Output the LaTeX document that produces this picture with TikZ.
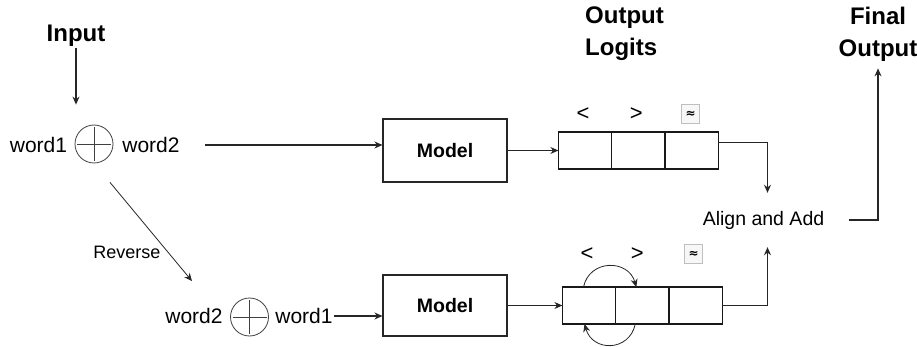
\documentclass[tikz,border=0pt]{standalone}
\usepackage{fontspec}
\setmainfont{Liberation Sans}
\newfontfamily\symfont{DejaVu Sans}
\usetikzlibrary{arrows.meta,positioning}

\tikzset{
  >={Stealth[length=8pt,width=7pt]},
  line/.style={draw=black!85, line width=1.1pt},
  head/.style={font=\fontsize{24}{32}\selectfont\bfseries, inner sep=1pt},
  word/.style={font=\fontsize{21}{24}\selectfont, inner sep=1pt},
  oplus/.style={circle, draw=black!75, line width=0.8pt, minimum size=38pt, inner sep=0pt,
    path picture={\draw[black!75, line width=0.8pt]
      ([yshift=-2pt]path picture bounding box.north) -- ([yshift=2pt]path picture bounding box.south)
      ([xshift=2pt]path picture bounding box.west) -- ([xshift=-2pt]path picture bounding box.east);}},
  modelbox/.style={draw=black!85, line width=1.1pt, minimum width=124pt, minimum height=63pt,
    font=\fontsize{19.5}{24}\selectfont\bfseries},
  cell/.style={draw=black!90, line width=1.1pt, minimum width=53.3pt, minimum height=37pt,
    inner sep=0pt, outer sep=0pt},
  sym/.style={font=\fontsize{22}{24}\selectfont, inner sep=0pt},
  unk/.style={draw=black!25, fill=black!3, minimum width=18pt, minimum height=19pt, inner sep=0pt,
    font=\symfont\fontsize{12}{12}\selectfont\bfseries},
}

\begin{document}
\begin{tikzpicture}[x=1pt, y=-1pt]
  \useasboundingbox (0,0) rectangle (917,347);

  % headings
  \node[head] (input) at (76,36) {Input};
  \node[head, align=left, anchor=west] (logits) at (584,34) {Output\\Logits};
  \node[head, align=center] (final) at (878,34) {Final\\Output};

  % upper branch
  \node[word] (w1a) at (38.5,145) {word1};
  \node[oplus] (plus1) at (94,144) {};
  \node[word] (w2a) at (151,145) {word2};
  \node[modelbox] (modelA) at (445,150.5) {Model};
  \node[cell] (l1) at (585,150.5) {};
  \node[cell, right=0pt of l1] (l2) {};
  \node[cell, right=0pt of l2] (l3) {};
  \node[sym] at ([xshift=-2pt,yshift=18pt]l1.north) {<};
  \node[sym] at ([xshift=-2pt,yshift=18pt]l2.north) {>};
  \node[unk] at ([xshift=-1pt,yshift=18pt]l3.north) {≈};

  % lower branch
  \node[word] (w2b) at (194,316) {word2};
  \node[oplus] (plus2) at (249.5,317) {};
  \node[word] (w1b) at (304,316) {word1};
  \node[modelbox, minimum height=61pt] (modelB) at (445,305.5) {Model};
  \node[cell] (r1) at (589,305.5) {};
  \node[cell, right=0pt of r1] (r2) {};
  \node[cell, right=0pt of r2] (r3) {};
  \node[sym] at ([xshift=-2pt,yshift=33pt]r1.north) {<};
  \node[sym] at ([xshift=-5pt,yshift=33pt]r2.north) {>};
  \node[unk] at ([xshift=-2pt,yshift=33pt]r3.north) {≈};

  \node[font=\fontsize{19.5}{24}\selectfont, minimum width=170pt, minimum height=54pt, inner sep=0pt]
    (align) at (763.5,220) {Align and Add};

  % connectors
  \draw[line, ->, shorten >=20pt] (input.south) -- (input |- plus1.north);
  \draw[line, ->, shorten <=24pt] (w2a.east) -- (w2a.east -| modelA.west);
  \draw[line, ->] (modelA.east) -- (l1.west);
  \draw[line, ->, line width=0.8pt] ([xshift=16pt,yshift=-19pt]plus1.south)
    -- node[pos=0.71, anchor=east, xshift=-4pt, font=\fontsize{18}{20}\selectfont] {Reverse}
    ([xshift=-2pt,yshift=26pt]w2b.north);
  \draw[line, ->] (w1b.east) -- (w1b.east -| modelB.west);
  \draw[line, ->] (modelB.east) -- (r1.west);
  \draw[line, ->, line width=0.8pt] ([xshift=-5.5pt]r1.north)
    .. controls +(6pt,28pt) and +(-8pt,28pt) .. ([xshift=-6pt]r2.north);
  \draw[line, ->, line width=0.8pt] ([xshift=-7pt]r2.south)
    .. controls +(-6pt,-28pt) and +(8pt,-28pt) .. ([xshift=-4.5pt]r1.south);
  \draw[line, ->] ([yshift=8pt]l3.east) -| ([xshift=4pt]align.north);
  \draw[line, ->] (r3.east) -| ([xshift=4pt]align.south);
  \draw[line, ->, shorten >=6pt] (align.east) -| (final.south);
\end{tikzpicture}
\end{document}
